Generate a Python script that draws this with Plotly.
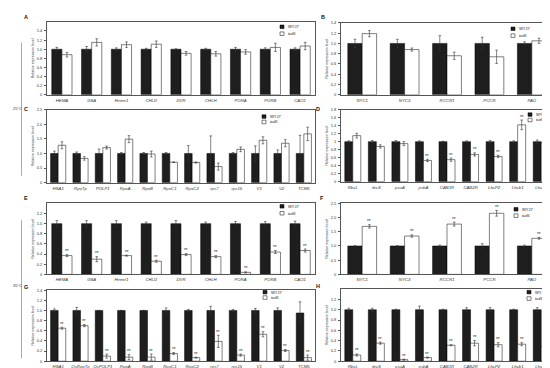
import plotly.graph_objects as go

W, H = 550, 368

# ---------------- data ----------------
genes_A = ["HEMA", "GSA", "Heme1", "CHLD", "DVR", "CHLH", "PORA", "PORB", "CAO1"]
genes_B = ["NYC1", "NYC3", "RCCR1", "PCCR", "PAO"]
genes_C = ["HSA1", "RpoTp", "POLP1", "RpoA", "RpoB", "RpoC1", "RpoC2", "rps7", "rps15", "V1", "V2", "TCM5"]
genes_D = ["RbcL", "rbcS", "psaA", "psbA", "CAB1R", "CAB2R", "LhcP2", "Lhcb1", "Lhcb4"]
genes_G = ["HSA1", "OsRpoTp", "OsPOLP1", "RpoA", "RpoB", "RpoC1", "RpoC2", "rps7", "rps15", "V1", "V2", "TCM5"]

# 25 C
A_wt = [1.0, 1.0, 1.0, 1.0, 1.0, 1.0, 1.0, 1.0, 1.0]
A_wt_err = [0.04, 0.06, 0.03, 0.02, 0.01, 0.02, 0.04, 0.03, 0.03]
A_mu = [0.88, 1.15, 1.10, 1.11, 0.91, 0.90, 0.94, 1.04, 1.07]
A_mu_err = [0.05, 0.08, 0.06, 0.07, 0.04, 0.05, 0.05, 0.09, 0.08]

B_wt = [1.0, 1.0, 1.0, 1.0, 1.0]
B_wt_err = [0.08, 0.08, 0.15, 0.12, 0.03]
B_mu = [1.19, 0.88, 0.76, 0.74, 1.05]
B_mu_err = [0.06, 0.03, 0.07, 0.13, 0.05]

C_wt = [1.0, 1.0, 1.0, 1.0, 1.0, 1.0, 1.0, 1.0, 1.0, 1.0, 1.0, 1.0]
C_wt_err = [0.08, 0.05, 0.15, 0.03, 0.03, 0.03, 0.27, 0.60, 0.03, 0.26, 0.12, 0.62]
C_mu = [1.28, 0.83, 1.20, 1.49, 0.98, 0.70, 0.69, 0.55, 1.14, 1.45, 1.35, 1.67]
C_mu_err = [0.12, 0.06, 0.05, 0.12, 0.10, 0.01, 0.02, 0.12, 0.08, 0.12, 0.12, 0.23]

D_wt = [1.0, 1.0, 1.0, 1.0, 1.0, 1.0, 1.0, 1.0, 1.0]
D_wt_err = [0.02, 0.03, 0.03, 0.02, 0.01, 0.02, 0.03, 0.02, 0.04]
D_mu = [1.15, 0.88, 0.95, 0.53, 0.55, 0.68, 0.63, 1.42, 0.97]
D_mu_err = [0.06, 0.04, 0.05, 0.03, 0.04, 0.04, 0.03, 0.12, 0.06]
D_stars = ["", "", "", "**", "**", "**", "**", "**", ""]

# 35 C
E_wt = [1.0, 1.0, 1.0, 1.0, 1.0, 1.0, 1.0, 1.0, 1.0]
E_wt_err = [0.06, 0.06, 0.06, 0.03, 0.06, 0.03, 0.04, 0.04, 0.05]
E_mu = [0.37, 0.30, 0.37, 0.26, 0.39, 0.35, 0.04, 0.44, 0.47]
E_mu_err = [0.02, 0.05, 0.01, 0.02, 0.02, 0.02, 0.01, 0.03, 0.03]

F_wt = [1.0, 1.0, 1.0, 1.0, 1.0]
F_wt_err = [0.02, 0.01, 0.03, 0.08, 0.03]
F_mu = [1.69, 1.35, 1.77, 2.15, 1.27]
F_mu_err = [0.06, 0.04, 0.07, 0.10, 0.03]

G_wt = [1.0, 1.0, 1.0, 1.0, 1.0, 1.0, 1.0, 1.0, 1.0, 1.0, 1.0, 0.95]
G_wt_err = [0.03, 0.06, 0.0, 0.0, 0.0, 0.05, 0.02, 0.08, 0.02, 0.04, 0.05, 0.22]
G_mu = [0.65, 0.70, 0.10, 0.08, 0.08, 0.15, 0.07, 0.39, 0.12, 0.53, 0.21, 0.07]
G_mu_err = [0.02, 0.02, 0.04, 0.05, 0.06, 0.02, 0.01, 0.12, 0.02, 0.05, 0.02, 0.05]

H_wt = [1.0, 1.0, 1.0, 1.0, 1.0, 1.0, 1.0, 1.0, 1.0]
H_wt_err = [0.03, 0.03, 0.01, 0.07, 0.01, 0.04, 0.04, 0.01, 0.04]
H_mu = [0.12, 0.35, 0.03, 0.07, 0.31, 0.35, 0.32, 0.33, 0.28]
H_mu_err = [0.02, 0.02, 0.01, 0.01, 0.01, 0.05, 0.04, 0.03, 0.02]

ticks_14 = [0, 0.2, 0.4, 0.6, 0.8, 1.0, 1.2, 1.4]
ticktext_14 = ["0", "0.2", "0.4", "0.6", "0.8", "1.0", "1.2", "1.4"]
ticks_12 = [0, 0.2, 0.4, 0.6, 0.8, 1.0, 1.2]
ticktext_12 = ["0", "0.2", "0.4", "0.6", "0.8", "1.0", "1.2"]
ticks_18 = [0, 0.2, 0.4, 0.6, 0.8, 1.0, 1.2, 1.4, 1.6, 1.8]
ticktext_18 = ["0", "0.2", "0.4", "0.6", "0.8", "1", "1.2", "1.4", "1.6", "1.8"]
ticks_25 = [0, 0.5, 1.0, 1.5, 2.0, 2.5]
ticktext_25 = ["0", "0.5", "1.0", "1.5", "2.0", "2.5"]

series_names = ["WYJ7", "tcd5"]
temp_labels = ["25\u00b0C", "35\u00b0C"]

# ---------------- layout helpers ----------------
def px_x(v):
    return v / W

def px_y(v):
    return 1 - v / H

panels = [
    dict(letter="A", genes=genes_A, wt=A_wt, we=A_wt_err, mu=A_mu, me=A_mu_err, stars=None,
         yr=1.6, tv=ticks_14, tt=ticktext_14, box=(39, 307, 11, 85), lab=(18, 6), leg=(274, 16, 7)),
    dict(letter="B", genes=genes_B, wt=B_wt, we=B_wt_err, mu=B_mu, me=B_mu_err, stars=None,
         yr=1.4, tv=ticks_14, tt=ticktext_14, box=(333, 545, 12, 85), lab=(315, 6), leg=(505, 18, 7)),
    dict(letter="C", genes=genes_C, wt=C_wt, we=C_wt_err, mu=C_mu, me=C_mu_err, stars=None,
         yr=2.5, tv=ticks_25, tt=ticktext_25, box=(39, 307, 100, 174), lab=(18, 99), leg=(256, 107, 5.5)),
    dict(letter="D", genes=genes_D, wt=D_wt, we=D_wt_err, mu=D_mu, me=D_mu_err, stars=D_stars,
         yr=1.8, tv=ticks_18, tt=ticktext_18, box=(333, 545, 100, 173), lab=(310, 99), leg=(522, 105, 5.5)),
    dict(letter="E", genes=genes_A, wt=E_wt, we=E_wt_err, mu=E_mu, me=E_mu_err, stars="all",
         yr=1.4, tv=ticks_12, tt=ticktext_12, box=(39, 307, 195, 267), lab=(18, 190), leg=(274, 198, 7)),
    dict(letter="F", genes=genes_B, wt=F_wt, we=F_wt_err, mu=F_mu, me=F_mu_err, stars="all",
         yr=2.5, tv=ticks_25, tt=ticktext_25, box=(333, 545, 195, 267), lab=(314, 190), leg=(508, 201, 6.5)),
    dict(letter="G", genes=genes_G, wt=G_wt, we=G_wt_err, mu=G_mu, me=G_mu_err, stars="all",
         yr=1.4, tv=ticks_14, tt=ticktext_14, box=(39, 307, 283, 355), lab=(18, 280), leg=(257, 285, 5.5)),
    dict(letter="H", genes=genes_D, wt=H_wt, we=H_wt_err, mu=H_mu, me=H_mu_err, stars="all",
         yr=1.4, tv=ticks_12, tt=ticktext_12, box=(333, 545, 282, 355), lab=(310, 279), leg=(521, 285, 6.5)),
]

FONT = "Arial, Liberation Sans, sans-serif"
LINE = "#555555"
DARK = "#1e1e1e"
BW = 0.34

fig = go.Figure()
annotations = []
shapes = []

for i, p in enumerate(panels):
    k = "" if i == 0 else str(i + 1)
    xa, ya = "x" + k, "y" + k
    n = len(p["genes"])
    xs = list(range(n))
    err_style = dict(type="data", color="#333333", thickness=0.6, width=1.3)
    fig.add_trace(go.Bar(
        x=xs, y=p["wt"], width=BW, offset=-BW, name=series_names[0],
        marker=dict(color=DARK, line=dict(color="#000000", width=0.5)),
        error_y=dict(array=p["we"], **err_style), xaxis=xa, yaxis=ya, showlegend=False))
    fig.add_trace(go.Bar(
        x=xs, y=p["mu"], width=BW, offset=0, name=series_names[1],
        marker=dict(color="#ffffff", line=dict(color="#000000", width=0.5)),
        error_y=dict(array=p["me"], **err_style), xaxis=xa, yaxis=ya, showlegend=False))

    x0, x1, y0, y1 = p["box"]
    fig.update_layout(**{
        "xaxis" + k: dict(domain=[px_x(x0), px_x(x1)], anchor=ya, range=[-0.5, n - 0.5],
                          tickvals=xs, ticktext=["<i>%s</i>" % g for g in p["genes"]],
                          tickfont=dict(size=4.3, color="#333"), showline=True, mirror=True,
                          linecolor=LINE, linewidth=0.7, ticks="", showgrid=False, zeroline=False,
                          tickangle=0, ticklabelstandoff=1),
        "yaxis" + k: dict(domain=[px_y(y1), px_y(y0)], anchor=xa, range=[0, p["yr"]],
                          tickvals=p["tv"], ticktext=p["tt"], tickfont=dict(size=4, color="#333"),
                          showline=True, mirror=True, linecolor=LINE, linewidth=0.7,
                          ticks="outside", ticklen=2, tickwidth=0.6, tickcolor=LINE,
                          showgrid=False, zeroline=False, ticklabelstandoff=1,
                          title=dict(text="Relative expression level", font=dict(size=3.6, color="#333"),
                                     standoff=2)),
    })

    # significance stars
    for j in range(n):
        s = None
        if p["stars"] == "all":
            s = "**"
        elif isinstance(p["stars"], list):
            s = p["stars"][j] or None
        if s:
            annotations.append(dict(x=j + BW / 2, y=p["mu"][j] + p["me"][j], xref=xa, yref=ya,
                                    text=s, showarrow=False, yanchor="bottom", yshift=-1.5,
                                    font=dict(size=4.5, color="#222", family=FONT)))

    # panel letter
    lx, ly = p["lab"]
    annotations.append(dict(x=px_x(lx), y=px_y(ly), xref="paper", yref="paper", text="<b>%s</b>" % p["letter"],
                            showarrow=False, xanchor="center", yanchor="middle",
                            font=dict(size=5.5, color="#111", family=FONT)))

    # legend (square + label)
    gx, gy, gs = p["leg"]
    for r, (nm, col) in enumerate(zip(series_names, [DARK, "#ffffff"])):
        cy = gy + r * gs
        shapes.append(dict(type="rect", xref="paper", yref="paper",
                           x0=px_x(gx - 2), x1=px_x(gx + 2), y0=px_y(cy + 1.8), y1=px_y(cy - 1.8),
                           fillcolor=col, line=dict(color="#000", width=0.5)))
        txt = nm if r == 0 else "<i>%s</i>" % nm
        annotations.append(dict(x=px_x(gx + 3.5), y=px_y(cy), xref="paper", yref="paper", text=txt,
                                showarrow=False, xanchor="left", yanchor="middle",
                                font=dict(size=4, color="#222", family=FONT)))

# temperature brackets
for (ty, l0, l1), lab in zip([(99, 32, 167), (278, 212, 352)], temp_labels):
    shapes.append(dict(type="line", xref="paper", yref="paper", x0=px_x(13.5), x1=px_x(13.5),
                       y0=px_y(l0), y1=px_y(l1), line=dict(color="#888", width=0.7)))
    annotations.append(dict(x=px_x(9), y=px_y(ty), xref="paper", yref="paper", text=lab,
                            showarrow=False, xanchor="center", yanchor="middle",
                            font=dict(size=4, color="#333", family=FONT)))

fig.update_layout(
    width=W, height=H, margin=dict(l=0, r=0, t=0, b=0),
    paper_bgcolor="white", plot_bgcolor="white",
    barmode="overlay", showlegend=False,
    font=dict(family=FONT, size=4.5, color="#333"),
    annotations=annotations, shapes=shapes,
)

fig.write_html("out.html")
